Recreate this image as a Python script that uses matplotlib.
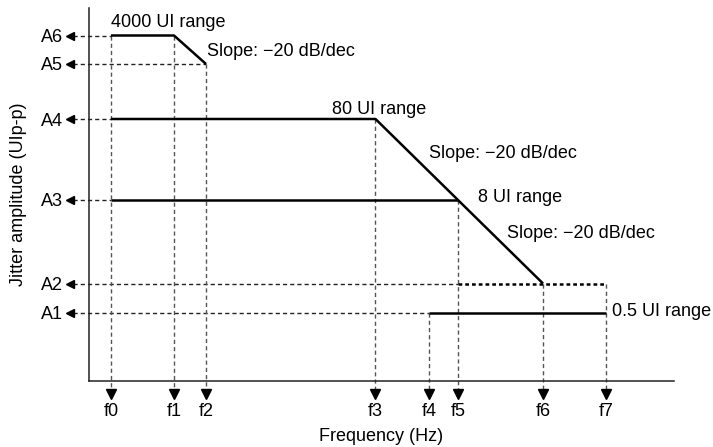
import matplotlib
matplotlib.use('Agg')
import matplotlib.pyplot as plt

# positions (axis units, left/bottom spine = 0)
freq_labels = ['f0', 'f1', 'f2', 'f3', 'f4', 'f5', 'f6', 'f7']
freq_pos = [22.3, 85.3, 117.3, 286.8, 340.3, 369.8, 454.3, 517.3]
amp_labels = ['A1', 'A2', 'A3', 'A4', 'A5', 'A6']
amp_pos = [68.2, 97.2, 181.2, 261.7, 316.7, 345.2]

f = dict(zip(freq_labels, freq_pos))
A = dict(zip(amp_labels, amp_pos))

# mask segments: (x list, y list)
range_4000 = (['f0', 'f1', 'f2'], ['A6', 'A6', 'A5'])
range_80 = (['f0', 'f3', 'f6'], ['A4', 'A4', 'A2'])
range_8 = (['f0', 'f5'], ['A3', 'A3'])
range_05 = (['f4', 'f7'], ['A1', 'A1'])
range_05_dotted = (['f5', 'f7'], ['A2', 'A2'])

# where each guide line meets the mask
h_guides = [('A6', 'f0'), ('A5', 'f2'), ('A4', 'f0'), ('A3', 'f0'), ('A2', 'f5'), ('A1', 'f4')]
v_guides = [('f0', 'A6'), ('f1', 'A6'), ('f2', 'A5'), ('f3', 'A4'), ('f4', 'A1'),
            ('f5', 'A3'), ('f6', 'A2'), ('f7', 'A2')]

plt.rcParams['font.family'] = ['Liberation Sans', 'DejaVu Sans']
plt.rcParams['font.size'] = 13

fig = plt.figure(figsize=(7.13, 4.47), dpi=100)
ax = fig.add_axes([88.7 / 713, 66.3 / 447, 585.3 / 713, 372.7 / 447])
ax.set_xlim(0, 585.3)
ax.set_ylim(0, 372.7)
for s in ['top', 'right']:
    ax.spines[s].set_visible(False)
for s in ['left', 'bottom']:
    ax.spines[s].set_linewidth(1.1)
    ax.spines[s].set_color('#222222')

ax.set_xticks(freq_pos, freq_labels)
ax.set_yticks(amp_pos, amp_labels)
ax.tick_params(axis='x', length=0, pad=16)
ax.tick_params(axis='y', length=0, pad=18.5)

# guide lines out to the arrows
for a, fx in h_guides:
    ax.plot([-15.7, f[fx]], [A[a], A[a]], color='#222222', lw=1, ls=(0, (3, 2.2)),
            clip_on=False, zorder=2)
    ax.plot([-18.7], [A[a]], marker='<', ms=5.5, color='black', clip_on=False, zorder=3)
for fx, a in v_guides:
    ax.plot([f[fx], f[fx]], [A[a], -8.3], color='#555555', lw=1, ls=(0, (3, 2.2)),
            clip_on=False, zorder=2)
    ax.plot([f[fx]], [-12.8], marker='v', ms=6.5, color='black', clip_on=False, zorder=3)

for xs, ys in [range_4000, range_80, range_8, range_05]:
    ax.plot([f[k] for k in xs], [A[k] for k in ys], color='black', lw=1.8,
            solid_capstyle='butt', zorder=4)
xs, ys = range_05_dotted
ax.plot([f[k] for k in xs], [A[k] for k in ys], color='black', lw=1.8,
        ls=(0, (1.5, 1.2)), zorder=4)

notes = [
    ('4000 UI range', 22.3, 358.0),
    ('Slope: \u221220 dB/dec', 118.3, 329.7),
    ('80 UI range', 243.3, 270.7),
    ('Slope: \u221220 dB/dec', 340.3, 227.7),
    ('8 UI range', 389.3, 182.7),
    ('Slope: \u221220 dB/dec', 418.3, 146.7),
    ('0.5 UI range', 523.3, 68.7),
]
for txt, x, y in notes:
    ax.text(x, y, txt, ha='left', va='center', clip_on=False)

ax.set_xlabel('Frequency (Hz)')
ax.set_ylabel('Jitter amplitude (UIp-p)')
ax.xaxis.set_label_coords(0.5, -0.128)
ax.yaxis.set_label_coords(-0.105, 0.5)

fig.savefig('out.png', dpi=100)
